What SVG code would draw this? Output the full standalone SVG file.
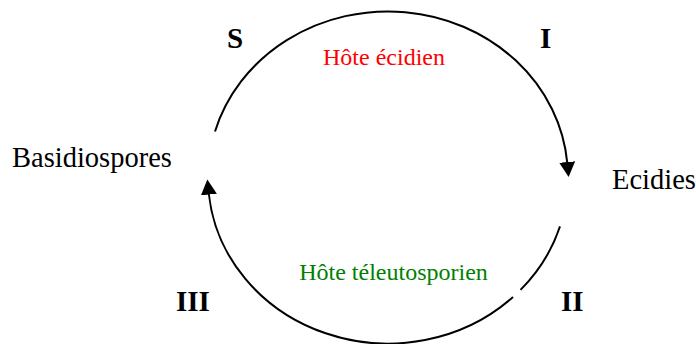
<svg xmlns="http://www.w3.org/2000/svg" width="696" height="344" viewBox="0 0 696 344">
<style>
text{font-family:"Liberation Serif","Times New Roman",serif;fill:#000}
.lbl{font-size:28.5px}
.num{font-size:29px;font-weight:bold}
.host{font-size:24px;text-anchor:middle}
.arc{fill:none;stroke:#000;stroke-width:2}
</style>
<defs>
<marker id="ah" markerUnits="userSpaceOnUse" markerWidth="16" markerHeight="16" refX="1" refY="8" orient="auto">
<path d="M0,0 L15,8 L0,16 z" fill="#000"/>
</marker>
</defs>
<rect width="696" height="344" fill="#fff"/>
<g id="connectors">
<path class="arc" d="M215,131.5 A180,166 0 0 1 567.3,163" marker-end="url(#ah)"/>
<path class="arc" d="M560,226.4 A180,166 0 0 1 520.5,289.9"/>
<path class="arc" d="M513,297 A180,166 0 0 1 208.8,193.5" marker-end="url(#ah)"/>
</g>
<g id="basidiospores"><text class="lbl" x="12" y="167">Basidiospores</text></g>
<g id="ecidies"><text class="lbl" x="612" y="189">Ecidies</text></g>
<g id="hote-ecidien"><text class="host" x="384" y="65" style="fill:#ff0000">Hôte écidien</text></g>
<g id="hote-teleutosporien"><text class="host" x="393.5" y="280" style="fill:#008000">Hôte téleutosporien</text></g>
<g id="stage-s"><text class="num" x="227" y="48">S</text></g>
<g id="stage-i"><text class="num" x="540" y="48">I</text></g>
<g id="stage-ii"><text class="num" x="561" y="311">II</text></g>
<g id="stage-iii"><text class="num" x="176" y="311">III</text></g>
</svg>
